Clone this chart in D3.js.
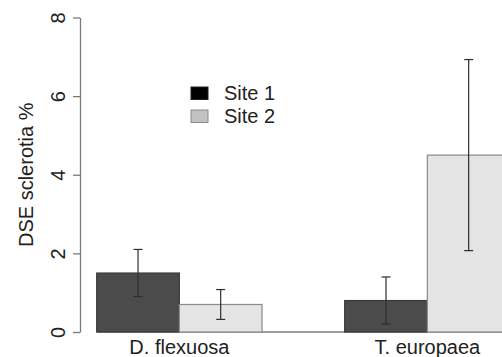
<!DOCTYPE html>
<html>
<head>
<meta charset="utf-8">
<script src="https://cdn.jsdelivr.net/npm/d3@7"></script>
<style>
  html, body { margin: 0; padding: 0; background: #fff; }
  svg { display: block; font-family: "Liberation Sans", Arial, Helvetica, sans-serif; }
</style>
</head>
<body>
<svg id="chart" width="502" height="357"></svg>
<script>
// Mean DSE sclerotia percentage by host species and site, with error bars
const categories = ["D. flexuosa", "T. europaea"];
const seriesNames = ["Site 1", "Site 2"];
const site1Mean = [1.5, 0.8];
const site1Err  = [0.6, 0.6];
const site2Mean = [0.7, 4.5];
const site2Err  = [0.38, 2.43];
const yTicks = [0, 2, 4, 6, 8];

const barFill    = ["#4b4b4b", "#e4e4e4"];
const barStroke  = ["#3a3a3a", "#8a8a8a"];
const legendFill = ["#000000", "#c2c2c2"];
const legendStroke = ["#222222", "#8a8a8a"];
const fontSize = "20px";

const rows = categories.map((c, i) => ({
  category: c,
  values: [
    { series: seriesNames[0], mean: site1Mean[i], err: site1Err[i], k: 0 },
    { series: seriesNames[1], mean: site2Mean[i], err: site2Err[i], k: 1 }
  ]
}));

const svg = d3.select("#chart");

const y = d3.scaleLinear().domain([0, 8]).range([332, 17.5]);
const x0 = d3.scaleBand().domain(categories).range([96.7, 510]).paddingInner(1 / 3).paddingOuter(0);
const x1 = d3.scaleBand().domain(seriesNames).range([0, x0.bandwidth()]).padding(0);

// baseline under the bars
svg.append("line")
  .attr("x1", x0.range()[0]).attr("x2", 520)
  .attr("y1", y(0)).attr("y2", y(0))
  .attr("stroke", "#7a7a7a").attr("stroke-width", 1.3);

// bars
const groups = svg.append("g").selectAll("g")
  .data(rows).join("g")
  .attr("transform", d => `translate(${x0(d.category)},0)`);

groups.selectAll("rect")
  .data(d => d.values).join("rect")
  .attr("x", d => x1(d.series))
  .attr("y", d => y(d.mean))
  .attr("width", x1.bandwidth())
  .attr("height", d => y(0) - y(d.mean))
  .attr("fill", d => barFill[d.k])
  .attr("stroke", d => barStroke[d.k])
  .attr("stroke-width", 1.2);

// error bars
const capHalf = 4.5;
const eb = groups.selectAll("g.err")
  .data(d => d.values).join("g").attr("class", "err")
  .attr("stroke", "#2e2e2e").attr("stroke-width", 1.2);
eb.append("line")
  .attr("x1", d => x1(d.series) + x1.bandwidth() / 2)
  .attr("x2", d => x1(d.series) + x1.bandwidth() / 2)
  .attr("y1", d => y(d.mean - d.err))
  .attr("y2", d => y(d.mean + d.err));
eb.append("line")
  .attr("x1", d => x1(d.series) + x1.bandwidth() / 2 - capHalf)
  .attr("x2", d => x1(d.series) + x1.bandwidth() / 2 + capHalf)
  .attr("y1", d => y(d.mean + d.err))
  .attr("y2", d => y(d.mean + d.err));
eb.append("line")
  .attr("x1", d => x1(d.series) + x1.bandwidth() / 2 - capHalf)
  .attr("x2", d => x1(d.series) + x1.bandwidth() / 2 + capHalf)
  .attr("y1", d => y(d.mean - d.err))
  .attr("y2", d => y(d.mean - d.err));

// y axis with rotated tick labels
const yAxis = svg.append("g")
  .attr("transform", "translate(80,0)")
  .call(d3.axisLeft(y).tickValues(yTicks).tickSize(7).tickSizeOuter(0).tickFormat(d3.format("d")));
yAxis.select(".domain").attr("stroke", "#7a7a7a").attr("stroke-width", 1.3);
yAxis.selectAll(".tick line").attr("stroke", "#7a7a7a").attr("stroke-width", 1.3);
yAxis.selectAll(".tick text")
  .attr("x", null).attr("dy", null)
  .attr("transform", "translate(-15,0) rotate(-90)")
  .attr("text-anchor", "middle")
  .attr("fill", "#222")
  .style("font-size", fontSize)
  .style("font-family", "'Liberation Sans', Arial, sans-serif");

// y axis title
svg.append("text")
  .attr("transform", `translate(33,${y(4)}) rotate(-90)`)
  .attr("text-anchor", "middle")
  .attr("fill", "#222")
  .style("font-size", fontSize)
  .text("DSE sclerotia %");

// category labels
svg.append("g").selectAll("text")
  .data(categories).join("text")
  .attr("x", d => x0(d) + x0.bandwidth() / 2)
  .attr("y", 354)
  .attr("text-anchor", "middle")
  .attr("fill", "#222")
  .style("font-size", fontSize)
  .text(d => d);

// legend
const legend = svg.append("g").attr("transform", "translate(191,87)");
const li = legend.selectAll("g").data(seriesNames).join("g")
  .attr("transform", (d, i) => `translate(0,${i * 23})`);
li.append("rect")
  .attr("x", 0).attr("y", 0).attr("width", 17).attr("height", 12.5)
  .attr("fill", (d, i) => legendFill[i])
  .attr("stroke", (d, i) => legendStroke[i])
  .attr("stroke-width", 1);
li.append("text")
  .attr("x", 33).attr("y", 12.5)
  .attr("fill", "#222")
  .style("font-size", fontSize)
  .text(d => d);
</script>
</body>
</html>
